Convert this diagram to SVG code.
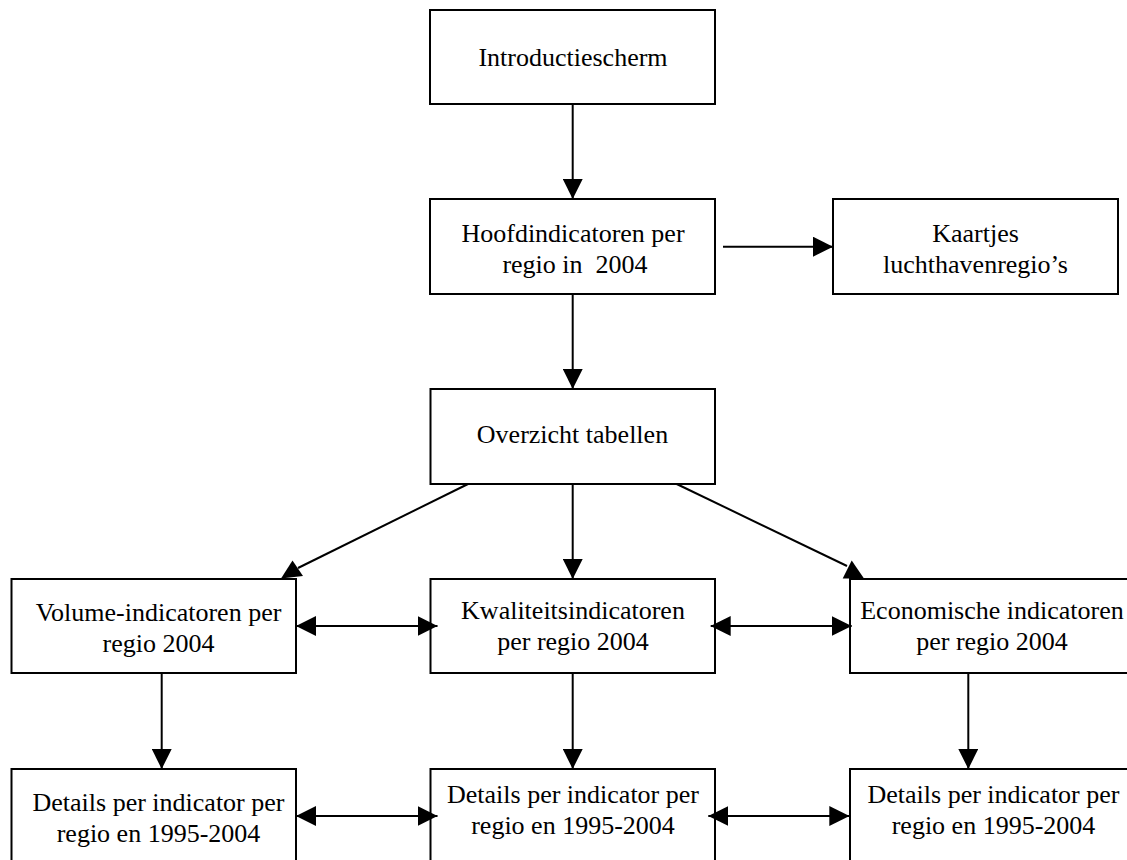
<svg xmlns="http://www.w3.org/2000/svg" width="1127" height="860" viewBox="0 0 1127 860">
  <style>
    .box { fill: #ffffff; stroke: #000000; stroke-width: 2; }
    .lbl { font-family: "Liberation Serif", "Times New Roman", serif; font-size: 26px; fill: #000000; text-anchor: middle; white-space: pre; }
    .ln { stroke: #000000; stroke-width: 2; fill: none; }
    .head { fill: #000000; stroke: none; }
  </style>
  <defs>
    <marker id="arr" markerUnits="userSpaceOnUse" markerWidth="20" markerHeight="20" viewBox="0 0 20 20" refX="20" refY="10" orient="auto-start-reverse">
      <path d="M0,0 L20,10 L0,20 Z" fill="#000000"/>
    </marker>
  </defs>

  <rect width="1127" height="860" fill="#ffffff"/>

  <g id="node-intro">
    <rect class="box" x="430" y="10" width="285" height="94"/>
    <text class="lbl" x="573" y="65.5">Introductiescherm</text>
  </g>

  <g id="node-hoofd">
    <rect class="box" x="430" y="199" width="285" height="95"/>
    <text class="lbl" x="573" y="241.5">Hoofdindicatoren per</text>
    <text class="lbl" x="575" y="272.5" xml:space="preserve">regio in  2004</text>
  </g>

  <g id="node-kaartjes">
    <rect class="box" x="833" y="199" width="285" height="95"/>
    <text class="lbl" x="975.5" y="241.5">Kaartjes</text>
    <text class="lbl" x="975.5" y="272.5">luchthavenregio’s</text>
  </g>

  <g id="node-overzicht">
    <rect class="box" x="430.5" y="389" width="284.5" height="95"/>
    <text class="lbl" x="572.5" y="442.5">Overzicht tabellen</text>
  </g>

  <g id="node-volume">
    <rect class="box" x="11.5" y="579" width="284.5" height="94"/>
    <text class="lbl" x="158.5" y="621">Volume-indicatoren per</text>
    <text class="lbl" x="158.5" y="652">regio 2004</text>
  </g>

  <g id="node-kwaliteit">
    <rect class="box" x="430.5" y="579" width="284.5" height="94"/>
    <text class="lbl" x="573" y="619">Kwaliteitsindicatoren</text>
    <text class="lbl" x="573" y="650">per regio 2004</text>
  </g>

  <g id="node-economisch">
    <rect class="box" x="850" y="579" width="285" height="94"/>
    <text class="lbl" x="992" y="619">Economische indicatoren</text>
    <text class="lbl" x="992" y="650">per regio 2004</text>
  </g>

  <g id="node-details-1">
    <rect class="box" x="11.5" y="769" width="284.5" height="100"/>
    <text class="lbl" x="158.5" y="810.5">Details per indicator per</text>
    <text class="lbl" x="158.5" y="841.5">regio en 1995-2004</text>
  </g>

  <g id="node-details-2">
    <rect class="box" x="430.5" y="769" width="284.5" height="100"/>
    <text class="lbl" x="573" y="803">Details per indicator per</text>
    <text class="lbl" x="573" y="834">regio en 1995-2004</text>
  </g>

  <g id="node-details-3">
    <rect class="box" x="850" y="769" width="285" height="100"/>
    <text class="lbl" x="993.5" y="803">Details per indicator per</text>
    <text class="lbl" x="993.5" y="834">regio en 1995-2004</text>
  </g>

  <g id="connectors">
    <line class="ln" x1="572.7" y1="104" x2="572.7" y2="199" marker-end="url(#arr)"/>
    <line class="ln" x1="723" y1="246.7" x2="833" y2="246.7" marker-end="url(#arr)"/>
    <line class="ln" x1="572.7" y1="294" x2="572.7" y2="389" marker-end="url(#arr)"/>
    <line class="ln" x1="572.7" y1="484" x2="572.7" y2="579" marker-end="url(#arr)"/>

    <line class="ln" x1="468" y1="484" x2="298" y2="568"/>
    <polygon class="head" points="281,578.5 292.5,560.5 303,576"/>
    <line class="ln" x1="676.7" y1="484" x2="847" y2="566"/>
    <polygon class="head" points="842.7,578.5 851.7,560.5 864,578.5"/>

    <line class="ln" x1="296" y1="626" x2="437.5" y2="626" marker-start="url(#arr)" marker-end="url(#arr)"/>
    <line class="ln" x1="710.7" y1="626" x2="851.7" y2="626" marker-start="url(#arr)" marker-end="url(#arr)"/>

    <line class="ln" x1="161.7" y1="673" x2="161.7" y2="769" marker-end="url(#arr)"/>
    <line class="ln" x1="572.7" y1="673" x2="572.7" y2="769" marker-end="url(#arr)"/>
    <line class="ln" x1="968.3" y1="673" x2="968.3" y2="769" marker-end="url(#arr)"/>

    <line class="ln" x1="296" y1="816" x2="437.5" y2="816" marker-start="url(#arr)" marker-end="url(#arr)"/>
    <line class="ln" x1="708.3" y1="816" x2="849.3" y2="816" marker-start="url(#arr)" marker-end="url(#arr)"/>
  </g>
</svg>
